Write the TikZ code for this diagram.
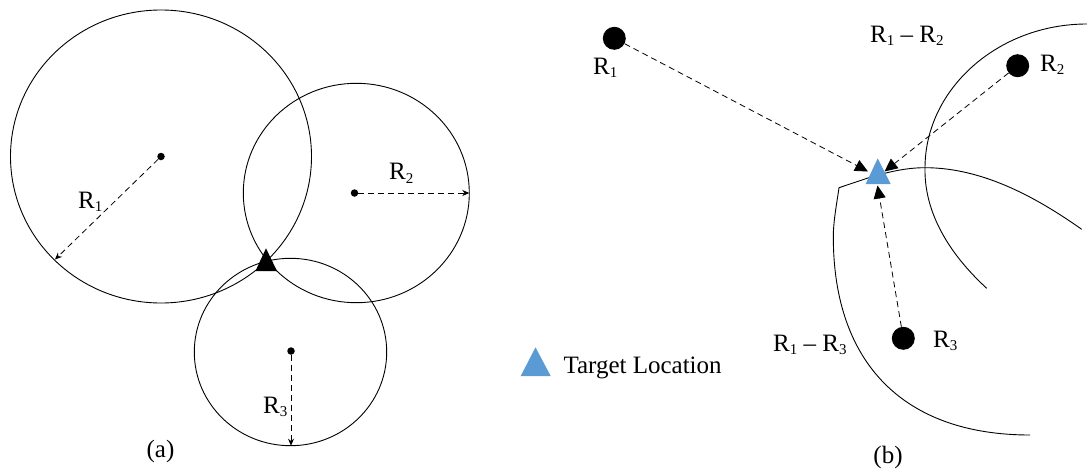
\documentclass[tikz,border=0pt]{standalone}
\usepackage{fontspec}
\setmainfont{Liberation Serif}
\usetikzlibrary{arrows.meta}
\newcommand\mysub[1]{\raisebox{-3.5pt}{\fontsize{15}{15}\selectfont #1}}
\definecolor{tblue}{HTML}{5B9BD5}
\begin{document}
\begin{tikzpicture}[x=1pt,y=-1pt,
  lbl/.style={font=\fontsize{25}{30}\selectfont, inner sep=0pt, anchor=base west},
  captext/.style={font=\fontsize{25}{30}\selectfont, inner sep=0pt, anchor=base},
  ring/.style={draw=black, line width=0.9pt},
  curve/.style={draw=black, line width=0.9pt},
  sdot/.style={circle, fill=black, minimum size=7.5pt, inner sep=0pt},
  bdot/.style={circle, fill=black, minimum size=23pt, inner sep=0pt},
  dasharrow/.style={dash pattern=on 6pt off 4pt, line width=0.8pt, -{Stealth[length=7pt,width=6pt]}},
  bigarrow/.style={dash pattern=on 6pt off 4pt, line width=0.8pt, -{Triangle[length=13pt,width=12pt]}},
]
\useasboundingbox (0,0) rectangle (1087,471);

% ---------- (a) ----------
\draw[ring] (161,156.5) ellipse [x radius=150.5pt, y radius=146.5pt];
\draw[ring] (356.3,193) ellipse [x radius=113pt, y radius=109.7pt];
\draw[ring] (290.5,352) ellipse [x radius=96.2pt, y radius=93.7pt];

\node[sdot] (ca1) at (161,156.5) {};
\node[sdot] (ca2) at (354.5,193) {};
\node[sdot] (ca3) at (291,351) {};
\coordinate (ta1) at (55,259.5);
\coordinate (ta2) at (469.3,193);
\coordinate (ta3) at (291,445.7);
\draw[dasharrow] (ca1) -- (ta1);
\draw[dasharrow] (ca2) -- (ta2);
\draw[dasharrow] (ca3) -- (ta3);

\fill[black] (266,248.3) -- (277,271) -- (255.5,271) -- cycle;

\node[lbl] (la1) at (78,208) {R\mysub{1}};
\node[lbl] (la2) at (389,179.5) {R\mysub{2}};
\node[lbl] (la3) at (263,413) {R\mysub{3}};
\node[captext] (capa) at (160.5,457) {(a)};

% ---------- (b) ----------
% R1 - R2 branch
\draw[curve] (1087,24) .. controls (998,24) and (925,89) .. (925,168)
  .. controls (924,220) and (958,262) .. (986.7,288.3);
% R1 - R3 branch
\draw[curve] (1081.7,229.3) .. controls (1040,200) and (985,167.7) .. (925,167.7)
  .. controls (905,167.7) and (886,172.5) .. (867,178.3)
  -- (839,187.7)
  .. controls (836.5,205) and (833.3,222) .. (833.3,236.7)
  .. controls (833.3,363.6) and (904.1,435) .. (1030,435);

\node[bdot] (cb1) at (614.3,38.3) {};
\node[bdot] (cb2) at (1017.7,65.7) {};
\node[bdot] (cb3) at (903.3,338.3) {};
\coordinate (tb1) at (868,171.5);
\coordinate (tb2) at (884.5,171.5);
\coordinate (tb3) at (877.5,185.5);
\draw[bigarrow] (cb1) -- (tb1);
\draw[bigarrow] (cb2) -- (tb2);
\draw[bigarrow] (cb3) -- (tb3);

\fill[tblue] (877.7,158.3) -- (890.7,184) -- (865.7,184) -- cycle;

\node[lbl] (lb1) at (593,74) {R\mysub{1}};
\node[lbl] (lb2) at (1040,71) {R\mysub{2}};
\node[lbl] (lb3) at (933,347) {R\mysub{3}};
\node[lbl] (lb12) at (870,42.3) {R\mysub{1} – R\mysub{2}};
\node[lbl] (lb13) at (773,351) {R\mysub{1} – R\mysub{3}};
\node[captext] (capb) at (888,463.5) {(b)};

% legend
\fill[tblue] (535.5,347.3) -- (550.7,376) -- (520.7,376) -- cycle;
\node[lbl] (leg) at (563.3,373.3) {Target Location};
\end{tikzpicture}
\end{document}
